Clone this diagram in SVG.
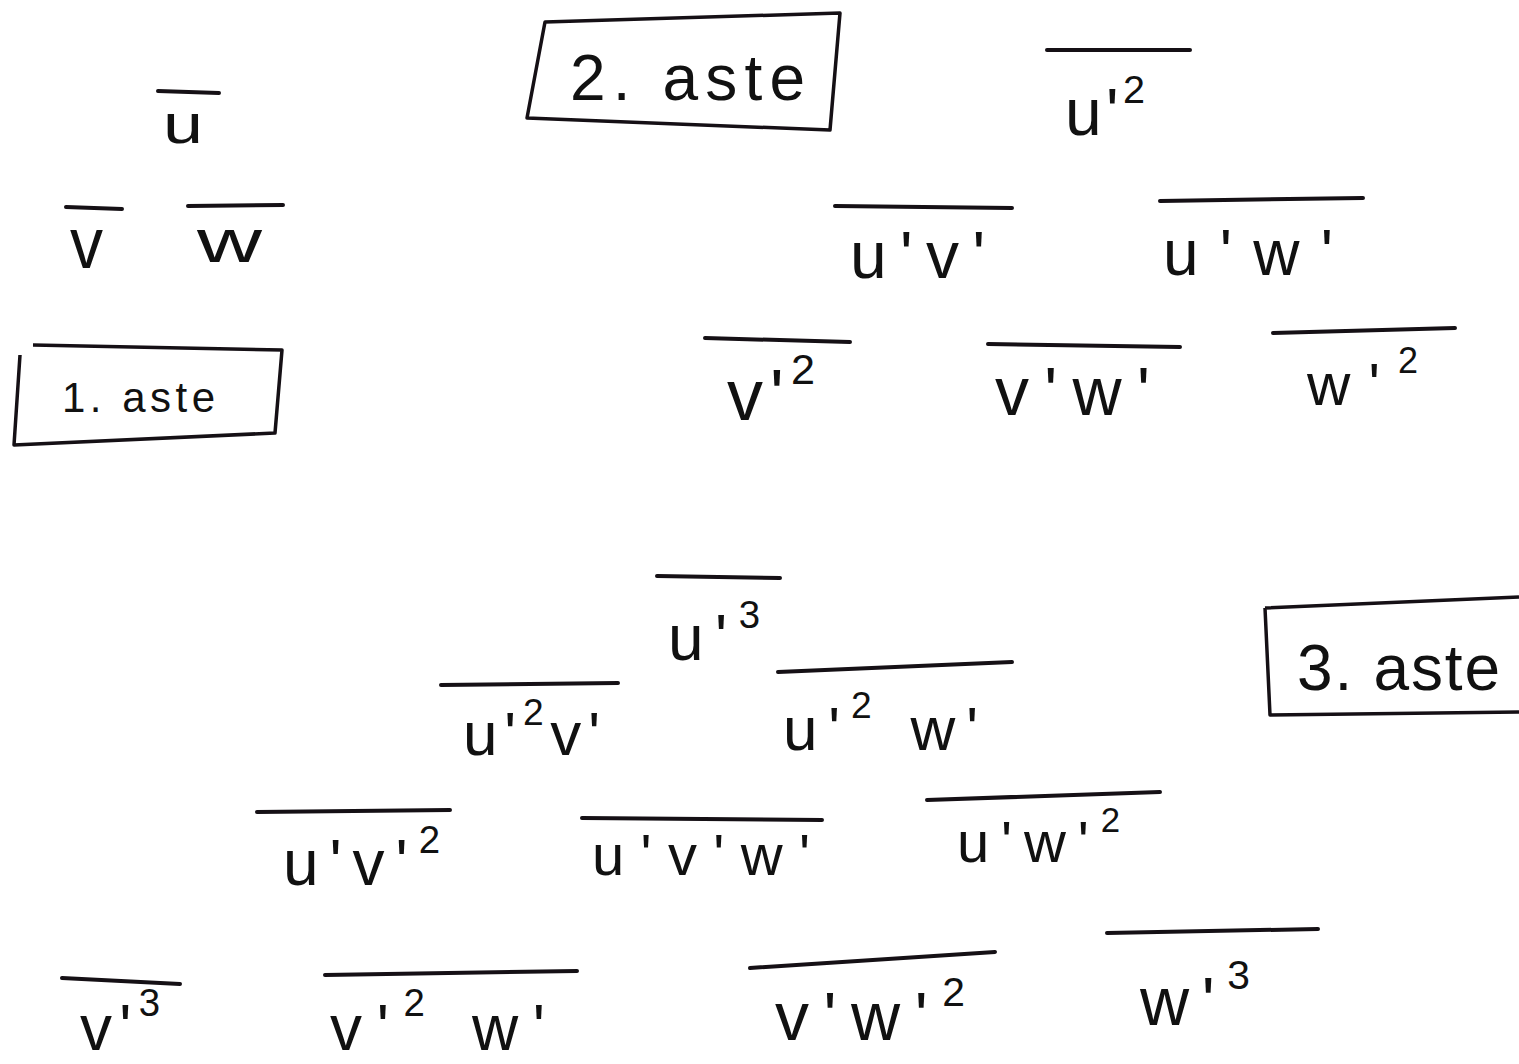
<svg xmlns="http://www.w3.org/2000/svg" width="1519" height="1064" viewBox="0 0 1519 1064">
<style>
text{font-family:"Liberation Sans","DejaVu Sans",sans-serif;fill:#111;}
.bar{stroke:#151015;stroke-width:4;stroke-linecap:round;fill:none;}
.box{stroke:#151015;stroke-width:3.5;fill:none;stroke-linejoin:round;}
.sup{font-size:0.6em;}
</style>
<rect width="1519" height="1064" fill="#fff"/>
<g id="boxes">
<g id="box1"><path class="box" d="M33,345 L282,350 L275,433 L14,445 L20,355"/><text x="62" y="412" font-size="42" textLength="153" lengthAdjust="spacing">1. aste</text></g>
<g id="box2"><path class="box" d="M545,22 L840,13 L830,130 L527,118 Z"/><text x="570" y="100" font-size="64" textLength="235" lengthAdjust="spacing">2. aste</text></g>
<g id="box3"><path class="box" d="M1265,608 L1519,597 M1265,608 L1270,715 L1519,712"/><text x="1297" y="690" font-size="64" textLength="203" lengthAdjust="spacing">3. aste</text></g>
</g>
<g id="order1">
<g id="u"><path class="bar" d="M158,91 L219,93"/><text x="163" y="143" font-size="55" textLength="40" lengthAdjust="spacingAndGlyphs">u</text></g>
<g id="v"><path class="bar" d="M66,207 L122,209"/><text x="70" y="268" font-size="72" textLength="33" lengthAdjust="spacingAndGlyphs">v</text></g>
<g id="w"><path class="bar" d="M188,206 L283,205"/><text x="197" y="262" font-size="62" textLength="65" lengthAdjust="spacingAndGlyphs">w</text></g>
</g>
<g id="order2">
<g id="uu"><path class="bar" d="M1047,50 L1190,50"/><text x="1065" y="135" font-size="66" textLength="80" lengthAdjust="spacing">u'<tspan class="sup" dy="-32">2</tspan></text></g>
<g id="uv"><path class="bar" d="M835,206 L1012,208"/><text x="850" y="278" font-size="66" textLength="135" lengthAdjust="spacing">u'v'</text></g>
<g id="uw"><path class="bar" d="M1160,201 L1363,198"/><text x="1163" y="275" font-size="64" textLength="170" lengthAdjust="spacing">u'w'</text></g>
<g id="vv"><path class="bar" d="M705,338 L850,342"/><text x="727" y="420" font-size="72" textLength="88" lengthAdjust="spacing">v'<tspan class="sup" dy="-36">2</tspan></text></g>
<g id="vw"><path class="bar" d="M988,344 L1180,347"/><text x="995" y="415" font-size="68" textLength="155" lengthAdjust="spacing">v'w'</text></g>
<g id="ww"><path class="bar" d="M1273,333 L1455,328"/><text x="1307" y="405" font-size="60" textLength="111" lengthAdjust="spacing">w'<tspan class="sup" dy="-32">2</tspan></text></g>
</g>
<g id="order3">
<g id="uuu"><path class="bar" d="M657,576 L780,578"/><text x="668" y="660" font-size="64" textLength="92" lengthAdjust="spacing">u'<tspan class="sup" dy="-32">3</tspan></text></g>
<g id="uuv"><path class="bar" d="M441,685 L618,683"/><text x="463" y="755" font-size="62" textLength="137" lengthAdjust="spacing">u'<tspan class="sup" dy="-30">2</tspan><tspan dy="30">v'</tspan></text></g>
<g id="uuw"><path class="bar" d="M778,672 L1012,662"/><text x="783" y="750" font-size="62" textLength="195" lengthAdjust="spacing">u'<tspan class="sup" dy="-32">2</tspan><tspan dy="32"> w'</tspan></text></g>
<g id="uvv"><path class="bar" d="M257,812 L450,810"/><text x="283" y="885" font-size="64" textLength="157" lengthAdjust="spacing">u'v'<tspan class="sup" dy="-32">2</tspan></text></g>
<g id="uvw"><path class="bar" d="M582,818 L822,820"/><text x="592" y="875" font-size="58" textLength="218" lengthAdjust="spacing">u'v'w'</text></g>
<g id="uww"><path class="bar" d="M927,800 L1160,792"/><text x="957" y="862" font-size="58" textLength="163" lengthAdjust="spacing">u'w'<tspan class="sup" dy="-30">2</tspan></text></g>
<g id="vvv"><path class="bar" d="M62,978 L180,984"/><text x="80" y="1050" font-size="64" textLength="80" lengthAdjust="spacing">v'<tspan class="sup" dy="-34">3</tspan></text></g>
<g id="vvw"><path class="bar" d="M325,975 L577,971"/><text x="330" y="1050" font-size="64" textLength="215" lengthAdjust="spacing">v'<tspan class="sup" dy="-34">2</tspan><tspan dy="34"> w'</tspan></text></g>
<g id="vww"><path class="bar" d="M750,968 L995,952"/><text x="775" y="1040" font-size="68" textLength="190" lengthAdjust="spacing">v'w'<tspan class="sup" dy="-34">2</tspan></text></g>
<g id="www"><path class="bar" d="M1107,933 L1318,929"/><text x="1140" y="1025" font-size="68" textLength="110" lengthAdjust="spacing">w'<tspan class="sup" dy="-36">3</tspan></text></g>
</g>
</svg>
